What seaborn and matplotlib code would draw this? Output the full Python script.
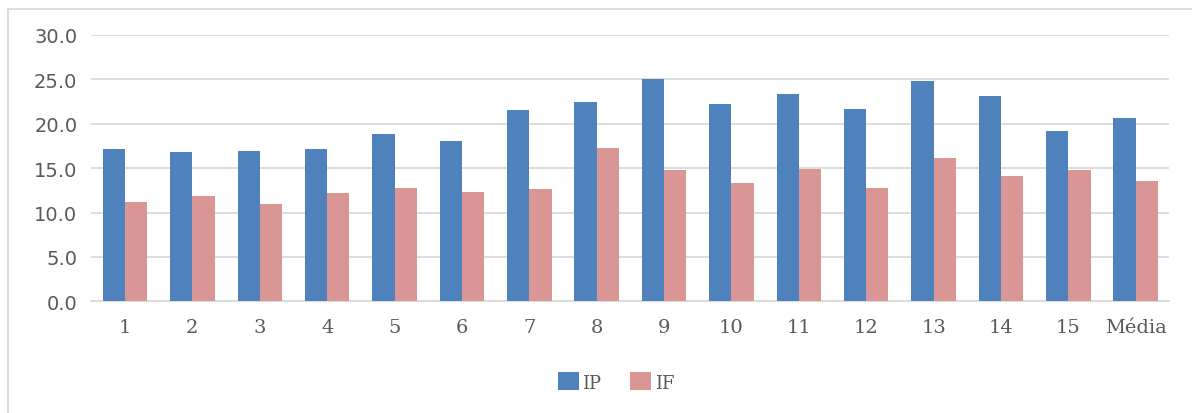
import matplotlib
matplotlib.use("Agg")
import matplotlib.pyplot as plt
from matplotlib.patches import Rectangle
import seaborn as sns
import pandas as pd

categories = ["1", "2", "3", "4", "5", "6", "7", "8", "9", "10",
              "11", "12", "13", "14", "15", "Média"]
ip_values = [17.2, 16.8, 16.9, 17.2, 18.8, 18.1, 21.5, 22.4, 25.0, 22.2,
             23.4, 21.7, 24.8, 23.1, 19.2, 20.6]
if_values = [11.2, 11.9, 11.0, 12.2, 12.8, 12.3, 12.6, 17.3, 14.8, 13.3,
             14.9, 12.8, 16.1, 14.1, 14.8, 13.5]
series_names = ["IP", "IF"]
y_ticks = [0, 5, 10, 15, 20, 25, 30]

df = pd.DataFrame({
    "categoria": categories * 2,
    "valor": ip_values + if_values,
    "serie": [series_names[0]] * len(categories) + [series_names[1]] * len(categories),
})

sns.set_theme(style="white")
plt.rcParams["font.family"] = ["DejaVu Sans"]

fig = plt.figure(figsize=(11.92, 4.14), dpi=100)
ax = fig.add_axes([91.3 / 1192, 1 - 302.3 / 414, (1169.4 - 91.3) / 1192, (302.3 - 36) / 414])

palette = {"IP": "#4F81BD", "IF": "#D99694"}
sns.barplot(data=df, x="categoria", y="valor", hue="serie", order=categories,
            hue_order=series_names, palette=palette, width=0.66, gap=0,
            saturation=1, edgecolor="none", ax=ax, legend=True, zorder=3)

ax.set_xlim(-0.5, len(categories) - 0.5)
ax.set_ylim(0, 30)
ax.set_yticks(y_ticks)
ax.set_yticklabels([f"{v:.1f}" for v in y_ticks])
ax.set_xlabel("")
ax.set_ylabel("")

ax.grid(axis="y", color="#D9D9D9", linewidth=1.3, zorder=0)
ax.grid(axis="x", visible=False)
for side in ["top", "right", "left"]:
    ax.spines[side].set_visible(False)
ax.spines["bottom"].set_color("#D9D9D9")
ax.spines["bottom"].set_linewidth(1.3)

ax.tick_params(axis="y", length=0, pad=10, labelsize=14, labelcolor="#595959")
ax.tick_params(axis="x", length=0, pad=12, labelsize=14, labelcolor="#595959")
for lbl in ax.get_xticklabels():
    lbl.set_family(["DejaVu Serif"])

handles, labels = ax.get_legend_handles_labels()
ax.get_legend().remove()
fig.legend(handles, labels, loc="center", bbox_to_anchor=(616 / 1192, 1 - 383 / 414),
           ncol=2, frameon=False, handlelength=1.15, handleheight=1.15,
           handletextpad=0.2, columnspacing=1.6,
           prop={"family": "DejaVu Serif", "size": 13},
           labelcolor="#595959")

# chart area frame
fig.patches.append(Rectangle((8 / 1192, -0.1), 1.2, 1 - 10 / 414 + 0.1,
                             transform=fig.transFigure, fill=False,
                             edgecolor="#D9D9D9", linewidth=1.3))

fig.savefig("out.png", dpi=100, facecolor="white")
